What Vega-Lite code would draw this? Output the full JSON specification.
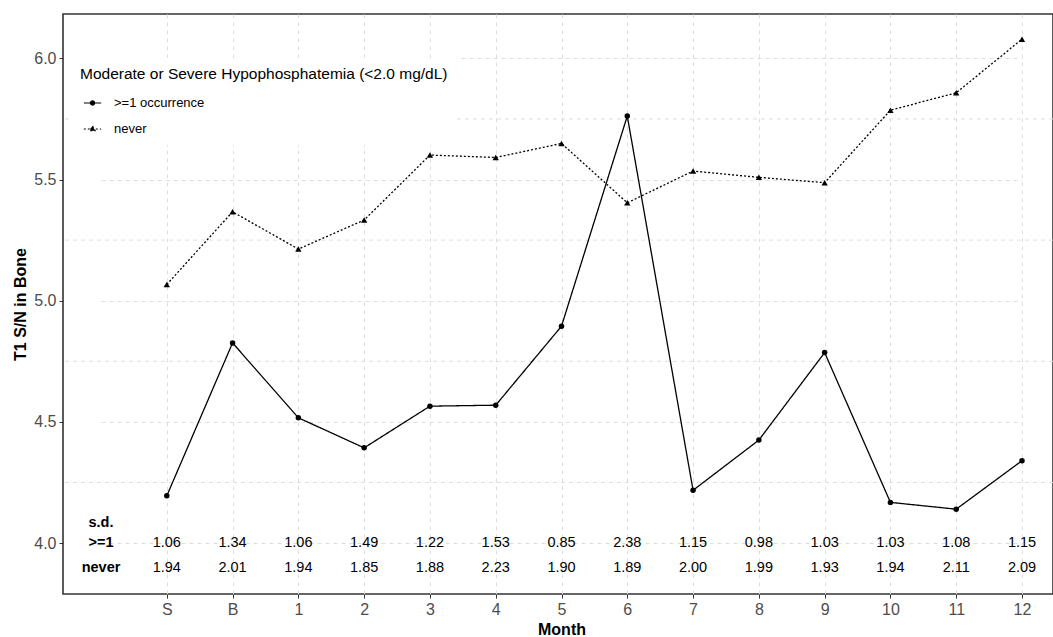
{
  "$schema": "https://vega.github.io/schema/vega-lite/v6.json",
  "autosize": "none",
  "width": 990,
  "height": 580,
  "padding": {"left": 63, "top": 14, "right": 0, "bottom": 43},
  "background": "white",
  "config": {
    "font": "Liberation Sans",
    "view": {"stroke": "#333333", "strokeWidth": 1.6},
    "axis": {"labelFont": "Liberation Sans", "titleFont": "Liberation Sans"}
  },
  "data": {
    "values": [
      {"month": "S", "group": ">=1 occurrence", "value": 4.195, "sd": 1.06},
      {"month": "B", "group": ">=1 occurrence", "value": 4.826, "sd": 1.34},
      {"month": "1", "group": ">=1 occurrence", "value": 4.517, "sd": 1.06},
      {"month": "2", "group": ">=1 occurrence", "value": 4.393, "sd": 1.49},
      {"month": "3", "group": ">=1 occurrence", "value": 4.565, "sd": 1.22},
      {"month": "4", "group": ">=1 occurrence", "value": 4.569, "sd": 1.53},
      {"month": "5", "group": ">=1 occurrence", "value": 4.895, "sd": 0.85},
      {"month": "6", "group": ">=1 occurrence", "value": 5.762, "sd": 2.38},
      {"month": "7", "group": ">=1 occurrence", "value": 4.218, "sd": 1.15},
      {"month": "8", "group": ">=1 occurrence", "value": 4.425, "sd": 0.98},
      {"month": "9", "group": ">=1 occurrence", "value": 4.786, "sd": 1.03},
      {"month": "10", "group": ">=1 occurrence", "value": 4.168, "sd": 1.03},
      {"month": "11", "group": ">=1 occurrence", "value": 4.140, "sd": 1.08},
      {"month": "12", "group": ">=1 occurrence", "value": 4.340, "sd": 1.15},
      {"month": "S", "group": "never", "value": 5.067, "sd": 1.94},
      {"month": "B", "group": "never", "value": 5.367, "sd": 2.01},
      {"month": "1", "group": "never", "value": 5.213, "sd": 1.94},
      {"month": "2", "group": "never", "value": 5.333, "sd": 1.85},
      {"month": "3", "group": "never", "value": 5.601, "sd": 1.88},
      {"month": "4", "group": "never", "value": 5.591, "sd": 2.23},
      {"month": "5", "group": "never", "value": 5.649, "sd": 1.90},
      {"month": "6", "group": "never", "value": 5.404, "sd": 1.89},
      {"month": "7", "group": "never", "value": 5.535, "sd": 2.00},
      {"month": "8", "group": "never", "value": 5.509, "sd": 1.99},
      {"month": "9", "group": "never", "value": 5.487, "sd": 1.93},
      {"month": "10", "group": "never", "value": 5.786, "sd": 1.94},
      {"month": "11", "group": "never", "value": 5.858, "sd": 2.11},
      {"month": "12", "group": "never", "value": 6.079, "sd": 2.09}
    ]
  },
  "encoding": {
    "x": {
      "field": "month",
      "type": "nominal",
      "scale": {
        "type": "point",
        "domain": [" ", "S", "B", "1", "2", "3", "4", "5", "6", "7", "8", "9", "10", "11", "12"],
        "range": [38, 959],
        "padding": 0
      },
      "axis": {
        "values": ["S", "B", "1", "2", "3", "4", "5", "6", "7", "8", "9", "10", "11", "12"],
        "title": "Month",
        "titleFontSize": 16,
        "titleFontWeight": "bold",
        "titleColor": "black",
        "titlePadding": 4,
        "labelFontSize": 16,
        "labelColor": "#4d4d4d",
        "labelAngle": 0,
        "labelPadding": 3,
        "tickColor": "#333333",
        "tickSize": 4,
        "domain": false,
        "grid": true,
        "gridColor": "#dedede",
        "gridDash": [4, 4],
        "gridWidth": 1
      }
    },
    "y": {
      "field": "value",
      "type": "quantitative",
      "scale": {"domain": [3.79, 6.183], "nice": false, "zero": false},
      "axis": {
        "values": [4, 4.5, 5, 5.5, 6],
        "format": ".1f",
        "title": "T1 S/N in Bone",
        "titleFontSize": 16,
        "titleFontWeight": "bold",
        "titleColor": "black",
        "titlePadding": 5,
        "labelFontSize": 16,
        "labelColor": "#4d4d4d",
        "labelPadding": 3,
        "tickColor": "#333333",
        "tickSize": 4,
        "domain": false,
        "grid": true,
        "gridColor": "#dedede",
        "gridDash": [4, 4],
        "gridWidth": 1
      }
    }
  },
  "layer": [
    {
      "data": {"values": [{"minor": 4.25}, {"minor": 4.75}, {"minor": 5.25}, {"minor": 5.75}]},
      "mark": {"type": "rule", "color": "#dedede", "strokeDash": [4, 4], "strokeWidth": 1},
      "encoding": {"x": null, "y": {"field": "minor", "type": "quantitative"}}
    },
    {
      "mark": {"type": "line", "color": "black", "strokeWidth": 1.3},
      "encoding": {
        "order": {"value": null},
        "strokeDash": {
          "field": "group",
          "type": "nominal",
          "scale": {"domain": [">=1 occurrence", "never"], "range": [[1, 0], [2, 2]]},
          "legend": {
            "orient": "none",
            "legendX": 8,
            "legendY": 44,
            "title": "Moderate or Severe Hypophosphatemia (<2.0 mg/dL)",
            "titleFontSize": 15.5,
            "titleFontWeight": "normal",
            "titleColor": "black",
            "titleFont": "Liberation Sans",
            "titleLimit": 600,
            "titlePadding": 11,
            "labelFont": "Liberation Sans",
            "labelFontSize": 13,
            "labelColor": "black",
            "labelLimit": 300,
            "labelOffset": 12,
            "symbolSize": 300,
            "symbolOffset": 3,
            "symbolStrokeWidth": 1.2,
            "symbolStrokeColor": "black",
            "symbolFillColor": "black",
            "symbolOpacity": 1,
            "rowPadding": 9,
            "padding": 9,
            "fillColor": "white",
            "encode": {
              "symbols": {
                "update": {
                  "shape": {"signal": "datum.value === 'never' ? 'M-1,0H1M0,-0.33L0.3,0.2L-0.3,0.2Z' : 'M-1,0H1M-0.24,0A0.24,0.24 0 1,1 0.24,0A0.24,0.24 0 1,1 -0.24,0'"},
                  "fill": {"value": "black"},
                  "fillOpacity": {"value": 1},
                  "stroke": {"value": "black"},
                  "strokeOpacity": {"value": 1},
                  "strokeWidth": {"value": 1.2},
                  "opacity": {"value": 1}
                }
              }
            }
          }
        }
      }
    },
    {
      "transform": [{"filter": "datum.group === '>=1 occurrence'"}],
      "mark": {"type": "point", "filled": true, "color": "black", "opacity": 1, "shape": "circle", "size": 30}
    },
    {
      "transform": [{"filter": "datum.group === 'never'"}],
      "mark": {"type": "point", "filled": true, "color": "black", "opacity": 1, "shape": "triangle-up", "size": 40}
    },
    {
      "transform": [{"filter": "datum.group === '>=1 occurrence'"}],
      "mark": {"type": "text", "fontSize": 14.5, "color": "black", "font": "Liberation Sans", "baseline": "middle"},
      "encoding": {
        "y": {"datum": 4.0},
        "text": {"field": "sd", "type": "quantitative", "format": ".2f"}
      }
    },
    {
      "transform": [{"filter": "datum.group === 'never'"}],
      "mark": {"type": "text", "fontSize": 14.5, "color": "black", "font": "Liberation Sans", "baseline": "middle"},
      "encoding": {
        "y": {"datum": 3.897},
        "text": {"field": "sd", "type": "quantitative", "format": ".2f"}
      }
    },
    {
      "transform": [{"filter": "datum.group === 'never' && datum.month === 'S'"}],
      "mark": {"type": "text", "fontSize": 14.5, "fontWeight": "bold", "color": "black", "font": "Liberation Sans", "baseline": "middle"},
      "encoding": {
        "x": {"datum": " "},
        "y": {"datum": 4.083},
        "text": {"value": "s.d."}
      }
    },
    {
      "transform": [{"filter": "datum.group === 'never' && datum.month === 'S'"}],
      "mark": {"type": "text", "fontSize": 14.5, "fontWeight": "bold", "color": "black", "font": "Liberation Sans", "baseline": "middle"},
      "encoding": {
        "x": {"datum": " "},
        "y": {"datum": 4.0},
        "text": {"value": ">=1"}
      }
    },
    {
      "transform": [{"filter": "datum.group === 'never' && datum.month === 'S'"}],
      "mark": {"type": "text", "fontSize": 14.5, "fontWeight": "bold", "color": "black", "font": "Liberation Sans", "baseline": "middle"},
      "encoding": {
        "x": {"datum": " "},
        "y": {"datum": 3.897},
        "text": {"value": "never"}
      }
    }
  ]
}
